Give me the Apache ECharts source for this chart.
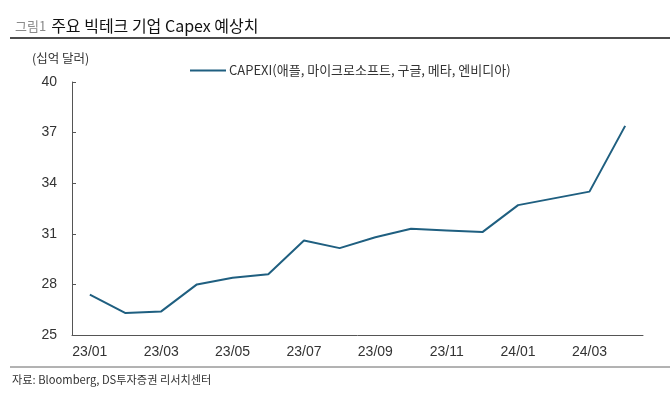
<!DOCTYPE html>
<html>
<head>
<meta charset="utf-8">
<script src="https://cdn.jsdelivr.net/npm/echarts@6/dist/echarts.min.js"></script>
<style>
  html, body { margin: 0; padding: 0; background: #fff; }
  #chart { width: 670px; height: 412px; }
</style>
</head>
<body>
<div id="chart"></div>
<script>
// 주요 빅테크 기업 Capex 예상치 (monthly, 23/01 - 24/04)
const months = ['23/01', '23/02', '23/03', '23/04', '23/05', '23/06', '23/07', '23/08',
  '23/09', '23/10', '23/11', '23/12', '24/01', '24/02', '24/03', '24/04'];
const capex = [27.4, 26.3, 26.4, 28.0, 28.4, 28.6, 30.6, 30.15,
  30.8, 31.3, 31.2, 31.1, 32.7, 33.1, 33.5, 37.4];
const seriesName = 'CAPEXI(애플, 마이크로소프트, 구글, 메타, 엔비디아)';

const KR = '"Noto Sans CJK KR", "Noto Sans", sans-serif';
const NUM = '"Liberation Sans", Arial, sans-serif';

const chart = echarts.init(document.getElementById('chart'), null, { renderer: 'canvas' });
chart.setOption({
  animation: false,
  backgroundColor: '#fff',
  title: {
    text: '{a|그림1} {b|주요 빅테크 기업 Capex 예상치}',
    left: 10,
    top: 12,
    textStyle: {
      fontWeight: 'normal',
      rich: {
        a: { fontFamily: KR, fontSize: 13, color: '#8a8a8a', fontWeight: 'normal' },
        b: { fontFamily: KR, fontSize: 16, color: '#111', fontWeight: 'normal' }
      }
    }
  },
  legend: {
    data: [seriesName],
    left: 185,
    top: 59,
    icon: 'rect',
    itemWidth: 36,
    itemHeight: 2,
    itemGap: 4,
    textStyle: { fontFamily: KR, fontSize: 13, color: '#333', padding: [0, 0, 0, -2] }
  },
  grid: { left: 72, right: 27, top: 82, bottom: 77, containLabel: false },
  xAxis: {
    type: 'category',
    data: months,
    boundaryGap: true,
    axisLine: { lineStyle: { color: '#555', width: 1 } },
    axisTick: { inside: true, length: 4, interval: 1, lineStyle: { color: '#555' } },
    axisLabel: { interval: 1, margin: 10, fontFamily: NUM, fontSize: 14, color: '#333' }
  },
  yAxis: {
    type: 'value',
    min: 25,
    max: 40,
    interval: 3,
    name: '(십억 달러)',
    nameLocation: 'end',
    nameGap: 17,
    nameTextStyle: { fontFamily: KR, fontSize: 12.5, color: '#333', align: 'left', padding: [0, 0, 0, -40] },
    axisLine: { show: true, lineStyle: { color: '#555', width: 1 } },
    axisTick: { show: true, inside: true, length: 4, lineStyle: { color: '#555' } },
    splitLine: { show: false },
    axisLabel: { margin: 15, fontFamily: NUM, fontSize: 14, color: '#333' }
  },
  series: [{
    name: seriesName,
    type: 'line',
    data: capex,
    symbol: 'none',
    lineStyle: { color: '#1f5f80', width: 2 },
    itemStyle: { color: '#1f5f80' }
  }],
  graphic: [
    { type: 'line', shape: { x1: 10, y1: 38, x2: 670, y2: 38 }, style: { stroke: '#111', lineWidth: 1.5 } },
    { type: 'line', shape: { x1: 10, y1: 367, x2: 670, y2: 367 }, style: { stroke: '#666', lineWidth: 1 } },
    {
      type: 'text', left: 12, top: 374,
      style: { text: '자료: Bloomberg, DS투자증권 리서치센터', font: '11.2px ' + KR, fill: '#333' }
    }
  ]
});
</script>
</body>
</html>
